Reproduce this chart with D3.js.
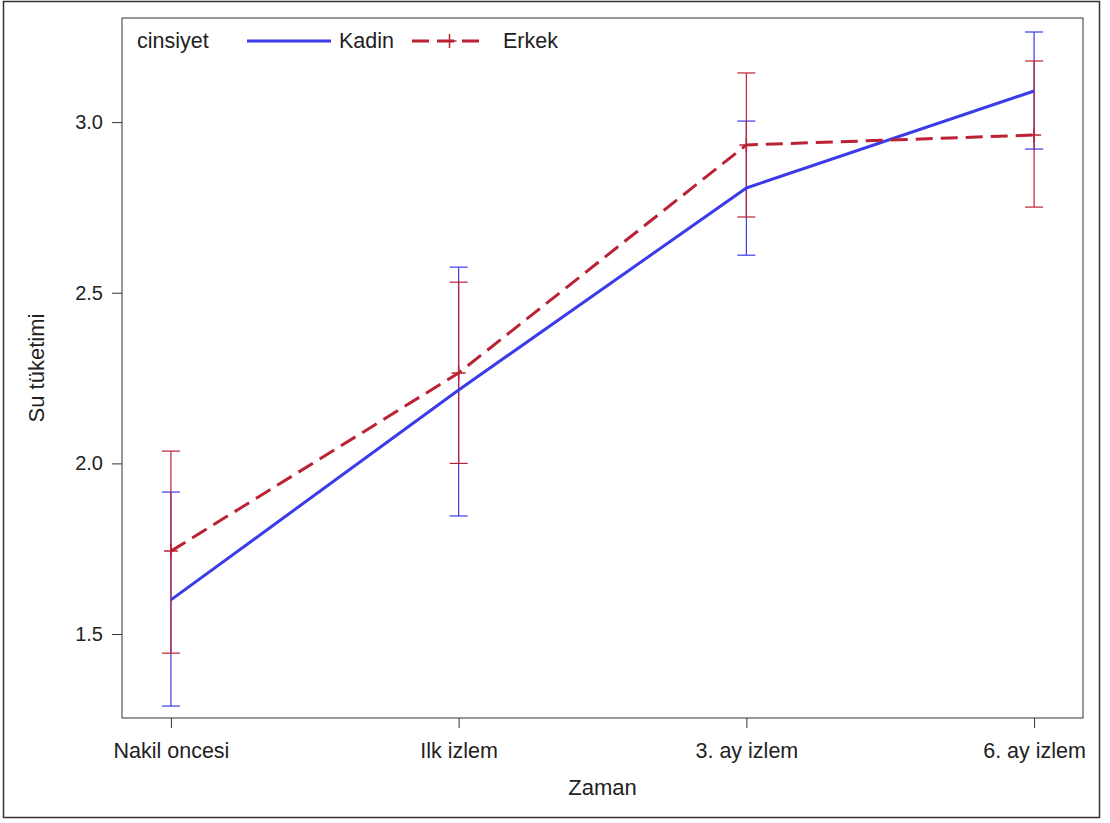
<!DOCTYPE html>
<html>
<head>
<meta charset="utf-8">
<script src="https://cdn.jsdelivr.net/npm/d3@7"></script>
<style>
  body { margin: 0; background: #fff; }
  text { font-family: "Liberation Sans", Arial, sans-serif; fill: #222; }
</style>
</head>
<body>
<svg width="1110" height="823"></svg>
<script>
const zaman = ['Nakil oncesi', 'Ilk izlem', '3. ay izlem', '6. ay izlem'];
const yTicks = [1.5, 2.0, 2.5, 3.0];

const kadinMean = [1.60, 2.215, 2.807, 3.091];
const kadinLow = [1.289, 1.846, 2.61, 2.921];
const kadinHigh = [1.916, 2.575, 3.003, 3.264];

const erkekMean = [1.743, 2.265, 2.933, 2.962];
const erkekLow = [1.444, 2.0, 2.722, 2.751];
const erkekHigh = [2.036, 2.531, 3.144, 3.179];

const svg = d3.select('svg');
const m = { top: 18, right: 27, bottom: 105, left: 122 };
const width = +svg.attr('width') - m.left - m.right;
const height = +svg.attr('height') - m.top - m.bottom;

// outer frame
svg.append('rect')
  .attr('x', 3.5).attr('y', 1.5)
  .attr('width', 1096).attr('height', 816)
  .attr('fill', 'none').attr('stroke', '#333').attr('stroke-width', 1.5);

const g = svg.append('g').attr('transform', `translate(${m.left}, ${m.top})`);

const x = d3.scalePoint().domain(zaman).range([0, width]).padding(0.17);
const y = d3.scaleLinear().domain([1.254, 3.305]).range([height, 0]);

const series = [
  { name: 'Kadin', color: '#3b3bea', dash: null, mean: kadinMean, low: kadinLow, high: kadinHigh, marker: false },
  { name: 'Erkek', color: '#bb2233', dash: '17,8', mean: erkekMean, low: erkekLow, high: erkekHigh, marker: true }
];

g.append('rect')
  .attr('width', width).attr('height', height)
  .attr('fill', 'none').attr('stroke', '#333').attr('stroke-width', 1);

g.append('g')
  .attr('transform', `translate(0, ${height})`)
  .call(d3.axisBottom(x).tickSize(10).tickPadding(6))
  .call(a => a.select('.domain').remove())
  .call(a => a.selectAll('line').attr('stroke', '#333'))
  .call(a => a.selectAll('text').attr('font-size', 21.5).attr('fill', '#222')
    .attr('dy', null).attr('y', 40)
    .style('font-family', '"Liberation Sans", Arial, sans-serif'));

g.append('g')
  .call(d3.axisLeft(y).tickValues(yTicks).tickFormat(d3.format('.1f')).tickSize(10).tickPadding(9))
  .call(a => a.select('.domain').remove())
  .call(a => a.selectAll('line').attr('stroke', '#333'))
  .call(a => a.selectAll('text').attr('font-size', 20).attr('fill', '#222')
    .style('font-family', '"Liberation Sans", Arial, sans-serif'));

svg.append('text')
  .attr('x', m.left + width / 2).attr('y', 795)
  .attr('text-anchor', 'middle').attr('font-size', 22)
  .text('Zaman');

svg.append('text')
  .attr('transform', `translate(44, ${m.top + height / 2}) rotate(-90)`)
  .attr('text-anchor', 'middle').attr('font-size', 22)
  .text('Su tüketimi');

const line = d3.line()
  .x((d, i) => x(zaman[i]))
  .y(d => y(d));

const cap = 9;
series.forEach(s => {
  const eb = g.append('g').attr('stroke', s.color).attr('stroke-width', 1.2);
  zaman.forEach((z, i) => {
    const cx = x(z);
    eb.append('line').attr('x1', cx).attr('x2', cx).attr('y1', y(s.low[i])).attr('y2', y(s.high[i]));
    eb.append('line').attr('x1', cx - cap).attr('x2', cx + cap).attr('y1', y(s.low[i])).attr('y2', y(s.low[i]));
    eb.append('line').attr('x1', cx - cap).attr('x2', cx + cap).attr('y1', y(s.high[i])).attr('y2', y(s.high[i]));
  });
});

series.forEach(s => {
  g.append('path')
    .datum(s.mean)
    .attr('fill', 'none')
    .attr('stroke', s.color)
    .attr('stroke-width', 3)
    .attr('stroke-dasharray', s.dash)
    .attr('stroke-linejoin', 'round')
    .attr('d', line);
  if (s.marker) {
    g.append('g').selectAll('path')
      .data(s.mean)
      .join('path')
      .attr('transform', (d, i) => `translate(${x(zaman[i])}, ${y(d)})`)
      .attr('d', 'M-7,0H7M0,-7V7')
      .attr('stroke', s.color)
      .attr('stroke-width', 1.5);
  }
});

// legend
const lg = svg.append('g').attr('transform', 'translate(137, 41)');
lg.append('text').attr('x', 0).attr('y', 7).attr('font-size', 21.5).text('cinsiyet');
const items = [
  { s: series[0], x0: 110, x1: 194, tx: 202 },
  { s: series[1], x0: 275, x1: 350, tx: 366 }
];
items.forEach(it => {
  lg.append('line')
    .attr('x1', it.x0).attr('x2', it.x1).attr('y1', 0).attr('y2', 0)
    .attr('stroke', it.s.color).attr('stroke-width', 3)
    .attr('stroke-dasharray', it.s.dash ? '17,8' : null);
  if (it.s.marker) {
    const mx = (it.x0 + it.x1) / 2;
    lg.append('path').attr('d', `M${mx - 7},0H${mx + 7}M${mx},-7V7`)
      .attr('stroke', it.s.color).attr('stroke-width', 1.5);
  }
  lg.append('text').attr('x', it.tx).attr('y', 7).attr('font-size', 21.5).text(it.s.name);
});
</script>
</body>
</html>
